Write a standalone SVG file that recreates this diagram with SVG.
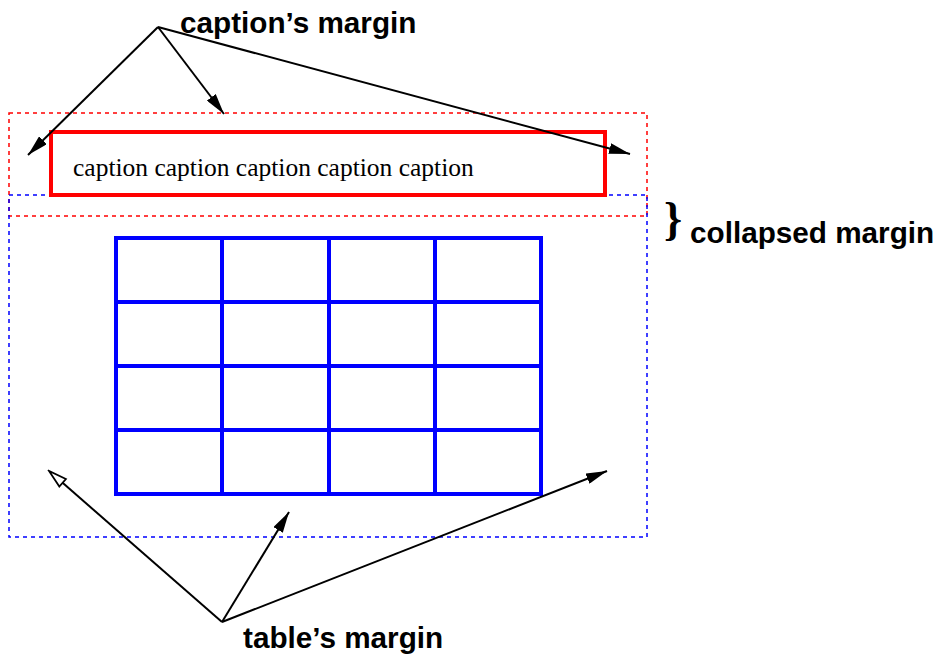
<svg xmlns="http://www.w3.org/2000/svg" width="937" height="657" viewBox="0 0 937 657">
  <style>
    .label { font-family: "Liberation Sans", Arial, sans-serif; font-weight: bold; font-size: 29.7px; fill: #000; }
    .cap { font-family: "Liberation Serif", "Times New Roman", serif; font-size: 25.5px; fill: #000; }
    .brace { font-family: "Liberation Serif", "Times New Roman", serif; font-weight: bold; font-size: 46px; fill: #000; }
    .dashred { fill: none; stroke: #ff0000; stroke-width: 1.5; stroke-dasharray: 4 4; }
    .dashblue { fill: none; stroke: #0000ff; stroke-width: 1.5; stroke-dasharray: 4 4; }
    .capbox { fill: none; stroke: #ff0000; stroke-width: 4; }
    .grid { fill: none; stroke: #0000ff; stroke-width: 4; }
    .conn { fill: none; stroke: #000; stroke-width: 2; }
  </style>
  <defs>
    <marker id="arrow" markerUnits="userSpaceOnUse" markerWidth="21" markerHeight="11" viewBox="0 0 21 11" refX="21" refY="5.5" orient="auto">
      <path d="M0,0 L21,5.5 L0,11 z" fill="#000"/>
    </marker>
    <marker id="openarrow" markerUnits="userSpaceOnUse" markerWidth="22" markerHeight="14" viewBox="-2 -2 22 14" refX="0" refY="5" orient="auto">
      <path d="M0,0 L18,5 L0,10 z" fill="#fff" stroke="#000" stroke-width="1.8"/>
    </marker>
  </defs>

  <g id="caption-margin-box">
    <rect class="dashred" x="9" y="113" width="638" height="103"/>
  </g>
  <g id="table-margin-box">
    <rect class="dashblue" x="9" y="195" width="638" height="342"/>
  </g>
  <g id="caption-box">
    <rect class="capbox" x="51" y="132" width="554" height="63"/>
    <text class="cap" x="73" y="176">caption caption caption caption caption</text>
  </g>
  <g id="table-grid">
    <rect class="grid" x="116" y="238" width="425" height="256"/>
    <line class="grid" x1="222" y1="238" x2="222" y2="494"/>
    <line class="grid" x1="329" y1="238" x2="329" y2="494"/>
    <line class="grid" x1="435" y1="238" x2="435" y2="494"/>
    <line class="grid" x1="116" y1="302" x2="541" y2="302"/>
    <line class="grid" x1="116" y1="366" x2="541" y2="366"/>
    <line class="grid" x1="116" y1="430" x2="541" y2="430"/>
  </g>
  <g id="caption-margin-label">
    <text class="label" x="180" y="33">caption’s margin</text>
  </g>
  <g id="collapsed-margin-label">
    <text class="brace" x="664" y="234">}</text>
    <text class="label" x="690" y="243">collapsed margin</text>
  </g>
  <g id="table-margin-label">
    <text class="label" x="243" y="648">table’s margin</text>
  </g>

  <g id="connectors">
    <line class="conn" x1="158" y1="27" x2="28" y2="155" marker-end="url(#arrow)"/>
    <line class="conn" x1="158" y1="27" x2="224" y2="114" marker-end="url(#arrow)"/>
    <line class="conn" x1="158" y1="27" x2="630" y2="154" marker-end="url(#arrow)"/>
    <line class="conn" x1="222" y1="622" x2="62.6" y2="482.8" marker-end="url(#openarrow)"/>
    <line class="conn" x1="222" y1="622" x2="289" y2="512" marker-end="url(#arrow)"/>
    <line class="conn" x1="222" y1="622" x2="607" y2="471" marker-end="url(#arrow)"/>
  </g>
</svg>
